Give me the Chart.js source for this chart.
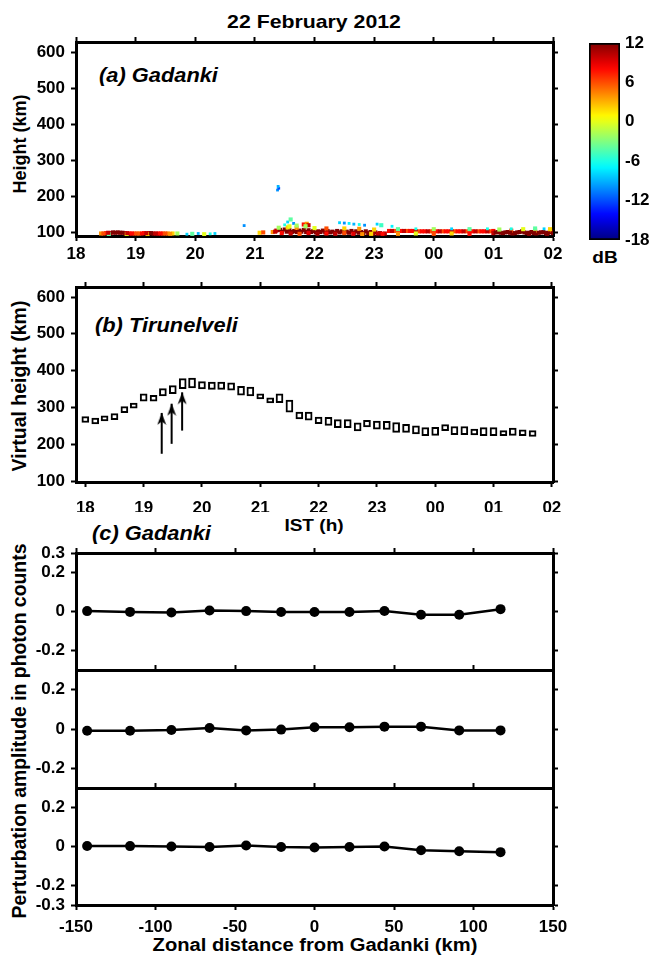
<!DOCTYPE html>
<html><head><meta charset="utf-8">
<script src="https://cdn.jsdelivr.net/npm/chart.js@4.4.0/dist/chart.umd.min.js"></script>
<style>
html,body{margin:0;padding:0;background:#fff;}
#wrap{position:relative;width:649px;height:959px;overflow:hidden;background:#fff;font-family:'Liberation Sans',Arial,sans-serif;color:#000;}
#wrap canvas{position:absolute;}
.t{position:absolute;white-space:nowrap;font-weight:bold;line-height:1;}
.c{transform:translate(-50%,-50%) scaleX(1.12);}
.l{transform:translate(0,-50%) scaleX(1.12);transform-origin:0 50%;}
.r{transform:translate(-50%,-50%) rotate(-90deg);}
.i{font-style:italic;}
</style></head>
<body><div id="wrap">
<div class="t c" style="left:314px;top:21px;font-size:19px;">22 February 2012</div>
<div class="t i l" style="left:99px;top:76px;font-size:19.5px;">(a) Gadanki</div>
<div class="t r" style="left:20px;top:144px;font-size:18px;">Height (km)</div>
<div class="t c" style="left:605px;top:257px;font-size:17px;">dB</div>
<div class="t i l" style="left:95px;top:326px;font-size:19.5px;">(b) Tirunelveli</div>
<div class="t r" style="left:20px;top:386px;font-size:19.5px;">Virtual height (km)</div>
<div class="t c" style="left:314px;top:525px;font-size:17px;">IST (h)</div>
<div class="t i l" style="left:92px;top:534px;font-size:19.5px;">(c) Gadanki</div>
<div class="t r" style="left:20px;top:731px;font-size:19.4px;">Perturbation amplitude in photon counts</div>
<div class="t c" style="left:315px;top:945px;font-size:18px;">Zonal distance from Gadanki (km)</div>
</div>
<script>
// ---------------- DATA ----------------
const hourTicks = [18, 19, 20, 21, 22, 23, 24, 25, 26];
const hourTickLabels = ['18', '19', '20', '21', '22', '23', '00', '01', '02'];
const heightTicks = [100, 200, 300, 400, 500, 600];
const dbTicks = [-18, -12, -6, 0, 6, 12];
const zonalTicks = [-150, -100, -50, 0, 50, 100, 150];
const pertTicksTop = [-0.2, 0, 0.2, 0.3];
const pertTicksMid = [-0.2, 0, 0.2];
const pertTicksBottom = [-0.3, -0.2, 0, 0.2];

// (a) Gadanki radar echoes: time (h IST, >24 = next day), height (km), SNR (dB)
const echoTime = [
 18.42,18.50,18.58,18.66,18.74,18.82,18.90,18.98,19.06,19.14,19.22,19.30,19.38,19.46,19.54,19.62,19.70,18.55,18.85,19.20,
 18.46,18.54,18.62,18.70,18.78,18.86,18.94,19.02,19.10,19.18,19.26,19.34,19.42,19.50,19.58,
 19.86,19.95,20.05,20.15,20.25,20.33,20.82,21.08,21.14,
 21.30,21.36,21.42,21.50,21.58,21.66,21.74,21.82,21.90,21.98,22.06,22.14,22.22,22.30,22.38,22.46,22.54,22.62,22.70,22.78,22.86,22.94,23.02,23.10,23.18,
 21.34,21.46,21.54,21.62,21.70,21.78,21.86,21.94,22.02,22.10,22.18,22.26,22.34,22.42,22.50,22.58,22.66,22.74,22.82,22.90,22.98,23.06,23.14,
 21.45,21.60,21.75,21.90,22.05,22.20,22.35,22.50,22.65,22.80,22.95,
 21.40,21.55,21.70,22.00,22.20,22.50,22.75,23.00,
 21.50,21.55,21.60,21.65,21.70,21.58,
 21.82,21.87,21.90,21.85,
 22.42,22.50,22.58,22.66,22.75,22.84,23.05,23.12,23.30,
 23.25,23.35,23.45,23.55,23.65,23.75,23.85,23.95,24.05,24.15,24.25,24.35,24.45,24.55,24.65,24.75,24.85,24.95,
 23.30,23.40,23.50,23.60,23.70,23.80,23.90,24.00,24.10,24.20,24.30,24.40,24.50,24.60,24.70,24.80,24.90,25.00,
 23.40,23.70,24.00,24.30,24.60,24.90,
 23.40,23.70,24.00,24.30,24.60,
 25.00,25.08,25.16,25.24,25.32,25.40,25.48,25.56,25.64,25.72,25.80,25.88,25.96,25.60,25.90,25.30,25.70,25.95,
 25.04,25.12,25.20,25.28,25.36,25.44,25.52,25.60,25.68,25.76,25.84,25.92,26.00,
 25.10,25.30,25.50,25.70,25.85,25.95,
 21.38,21.40,21.39
];
const echoHeight = [
 96,97,97,98,98,97,96,96,96,97,97,96,96,96,96,96,96,94,94,94,
 96,98,99,99,98,97,96,96,96,97,97,96,96,96,95,
 94,95,96,94,95,96,118,98,99,
 100,104,106,107,105,103,104,106,105,103,102,104,103,101,103,102,101,103,102,100,102,100,99,97,96,
 101,101,101,100,100,101,100,100,99,100,99,99,98,99,99,98,98,98,97,97,96,96,95,
 97,96,95,97,95,96,95,97,95,94,95,
 112,113,112,111,110,110,109,107,
 120,128,135,124,118,116,
 121,123,119,116,
 126,125,124,122,121,119,122,119,116,
 103,103,103,103,103,102,102,102,102,102,102,102,102,102,102,102,102,102,
 103,103,103,103,102,102,102,102,102,102,102,102,102,102,102,102,102,103,
 108,109,108,109,108,109,
 95,96,95,96,95,
 97,100,97,100,96,99,102,97,100,96,99,97,100,94,94,104,104,104,
 99,98,99,98,97,100,99,98,97,98,100,98,97,
 107,109,108,110,109,108,
 217,222,227
];
const echoDb = [
 4,8,10,12,12,10,8,6,4,8,10,10,8,6,4,2,-2,-4,0,2,
 6,10,12,12,12,10,8,6,8,10,12,10,8,6,4,
 -8,-4,-9,0,-6,-8,-10,2,6,
 4,10,12,12,12,12,12,12,12,12,12,12,12,12,12,12,12,12,12,12,12,12,12,11,10,
 10,12,12,12,12,12,12,12,12,12,12,12,12,12,12,12,12,12,12,12,11,10,8,
 8,10,6,9,11,8,10,6,9,4,2,
 -2,2,4,0,6,2,4,2,
 -6,-8,-4,-10,-2,0,
 8,4,10,-2,
 -8,-10,-7,-9,-6,-10,-8,-5,-7,
 8,6,8,6,8,6,8,6,8,6,8,6,8,6,8,6,8,6,
 10,8,10,8,10,8,10,8,10,8,10,8,10,8,10,8,10,8,
 -4,-6,-2,-8,-4,-6,
 4,0,6,2,8,
 10,12,12,12,12,12,12,12,12,12,12,12,12,12,12,6,4,6,
 12,12,12,12,12,12,12,12,12,12,12,12,12,
 -2,-6,0,-4,-8,2,
 -10,-12,-9
];

// (b) Tirunelveli ionosonde virtual height: time (h IST) and trace extent (km)
const vhTime = [18.00,18.17,18.33,18.50,18.67,18.83,19.00,19.17,19.33,19.50,19.67,19.83,20.00,20.17,20.33,20.50,20.67,20.83,21.00,21.17,21.33,21.50,21.67,21.83,22.00,22.17,22.33,22.50,22.67,22.83,23.00,23.17,23.33,23.50,23.67,23.83,24.00,24.17,24.33,24.50,24.67,24.83,25.00,25.17,25.33,25.50,25.67];
const vhLow  = [259,255,263,267,286,298,317,317,331,337,351,353,350,349,349,347,333,331,323,312,313,287,269,265,256,251,245,245,236,247,241,240,232,232,228,223,224,237,226,226,225,223,223,223,224,223,221];
const vhHigh = [275,271,277,283,302,312,337,333,351,359,378,380,370,369,369,367,357,355,337,326,337,320,287,287,274,273,267,267,258,265,263,262,259,254,250,245,246,253,248,248,241,245,245,237,244,239,237];
// arrows marking the onset times
const arrowTime = [19.31, 19.48, 19.66];
const arrowBase = [174, 201, 237];
const arrowTip  = [285, 310, 341];

// (c) Gadanki airglow perturbation amplitude vs zonal distance (km)
const zonalDist = [-143, -116, -90, -66, -43, -21, 0, 22, 44, 67, 91, 117];
const pert1 = [0.002, -0.002, -0.005, 0.005, 0.002, -0.003, -0.003, -0.003, 0.003, -0.017, -0.017, 0.012];
const pert2 = [-0.009, -0.009, -0.005, 0.005, -0.007, -0.003, 0.009, 0.009, 0.012, 0.012, -0.007, -0.007];
const pert3 = [0.003, 0.002, 0, -0.003, 0.005, -0.003, -0.005, -0.003, 0, -0.019, -0.024, -0.029];

// ---------------- RENDER ----------------
const FONT = "'Liberation Sans', Arial, sans-serif";
Chart.defaults.font.family = FONT;
Chart.defaults.font.weight = 'bold';
Chart.defaults.font.size = 17;
Chart.defaults.color = '#000';
Chart.defaults.animation = false;

const wrap = document.getElementById('wrap');
function makeCanvas(left, top, w, h) {
  const c = document.createElement('canvas');
  c.width = w; c.height = h;
  c.style.left = left + 'px'; c.style.top = top + 'px';
  c.style.width = w + 'px'; c.style.height = h + 'px';
  wrap.appendChild(c);
  return c;
}
function jet(v) {
  const u = (v + 18) / 30;
  const c = x => Math.round(255 * Math.max(0, Math.min(1, x)));
  return 'rgb(' + c(1.5 - Math.abs(4 * u - 3)) + ',' + c(1.5 - Math.abs(4 * u - 2)) + ',' + c(1.5 - Math.abs(4 * u - 1)) + ')';
}
function fixSize(s, size, horiz) {
  if (horiz) s.height = size; else s.width = size;
  s.paddingTop = 0; s.paddingBottom = 0; s.paddingLeft = 0; s.paddingRight = 0;
}
function sc(o) {
  const horiz = (o.pos === 'top' || o.pos === 'bottom');
  return {
    type: 'linear', position: o.pos, min: o.min, max: o.max, offset: false,
    afterFit: s => fixSize(s, o.size, horiz),
    afterBuildTicks: s => { s.ticks = o.ticks.map(v => ({ value: v })); },
    ticks: { display: !!o.labels, autoSkip: false, maxRotation: 0, minRotation: 0, padding: o.pad || 0,
             font: { size: 17, weight: 'bold' }, color: '#000',
             callback: (v, i) => (o.labels ? o.labels[i] : '') },
    grid: { display: true, drawOnChartArea: false, drawTicks: o.tl !== 0, tickLength: o.tl === undefined ? 5 : o.tl,
            tickWidth: 2, tickColor: '#000', offset: false },
    border: { display: true, color: '#000', width: 3 }
  };
}
const baseOpts = { responsive: false, animation: false, layout: { padding: 0, autoPadding: false },
  plugins: { legend: { display: false }, tooltip: { enabled: false }, title: { display: false } } };
const pertLabel = v => (v === 0 ? '0' : String(v));

// Panel (a)
new Chart(makeCanvas(0, 30, 580, 236), {
  type: 'scatter',
  data: { datasets: [{
    data: echoTime.map((t, i) => ({ x: t, y: echoHeight[i] })),
    pointStyle: 'rect', pointBorderWidth: 0,
    pointRadius: ctx => (echoDb[ctx.dataIndex] < -5 ? 2 : 2.9),
    pointBackgroundColor: ctx => jet(echoDb[ctx.dataIndex]),
    pointBorderColor: ctx => jet(echoDb[ctx.dataIndex])
  }] },
  options: Object.assign({}, baseOpts, { scales: {
    x: sc({ pos: 'bottom', min: 18, max: 26, ticks: hourTicks, labels: hourTickLabels, size: 30, pad: 3 }),
    xTop: sc({ pos: 'top', min: 18, max: 26, ticks: hourTicks, size: 12 }),
    y: sc({ pos: 'left', min: 89, max: 629, ticks: heightTicks, labels: heightTicks.map(String), size: 76, pad: 6 }),
    yRight: sc({ pos: 'right', min: 89, max: 629, ticks: heightTicks, size: 27 })
  } })
});

// Colour bar
new Chart(makeCanvas(580, 30, 69, 224), {
  type: 'bar',
  data: { labels: ['dB'], datasets: [{
    data: [[dbTicks[0], dbTicks[dbTicks.length - 1]]],
    backgroundColor: ctx => {
      const a = ctx.chart.chartArea; if (!a) return '#fff';
      const g = ctx.chart.ctx.createLinearGradient(0, a.bottom, 0, a.top);
      for (let k = 0; k <= 30; k++) g.addColorStop(k / 30, jet(-18 + k));
      return g;
    },
    borderColor: '#000', borderWidth: 2, borderSkipped: false, barPercentage: 1, categoryPercentage: 1
  }] },
  options: Object.assign({}, baseOpts, {
    layout: { padding: { left: 9, top: 13, bottom: 14, right: 0 }, autoPadding: false },
    scales: {
      x: { display: false },
      y: { position: 'right', min: -18, max: 12,
           afterFit: s => fixSize(s, 29, false),
           afterBuildTicks: s => { s.ticks = dbTicks.map(v => ({ value: v })); },
           ticks: { padding: 5, font: { size: 17, weight: 'bold' }, color: '#000', callback: v => String(v) },
           grid: { display: false, drawTicks: false }, border: { display: false } }
    }
  })
});

// Panel (b)
const arrowHead = (() => {
  const c = document.createElement('canvas'); c.width = 10; c.height = 26;
  const g = c.getContext('2d'); g.fillStyle = '#000';
  g.beginPath(); g.moveTo(5, 13); g.lineTo(9.5, 25); g.lineTo(5, 21.5); g.lineTo(0.5, 25); g.closePath(); g.fill();
  return c;
})();
const arrowSets = arrowTime.map((t, i) => ({
  type: 'line', data: [{ x: t, y: arrowBase[i] }, { x: t, y: arrowTip[i] }],
  borderColor: '#000', borderWidth: 2, fill: false, pointStyle: arrowHead,
  pointRadius: ctx => (ctx.dataIndex === 1 ? 5 : 0)
}));
new Chart(makeCanvas(0, 275, 580, 237), {
  type: 'bar',
  data: { datasets: [{
    type: 'bar',
    data: vhTime.map((t, i) => ({ x: t, y: [vhLow[i], vhHigh[i]] })),
    backgroundColor: '#fff', borderColor: '#000', borderWidth: 2, borderSkipped: false, barThickness: 7
  }].concat(arrowSets) },
  options: Object.assign({}, baseOpts, { scales: {
    x: sc({ pos: 'bottom', min: 17.84, max: 26.02, ticks: hourTicks, labels: hourTickLabels, size: 30, pad: 11 }),
    xTop: sc({ pos: 'top', min: 17.84, max: 26.02, ticks: hourTicks, size: 12 }),
    y: sc({ pos: 'left', min: 97.3, max: 627.2, ticks: heightTicks, labels: heightTicks.map(String), size: 76, pad: 6 }),
    yRight: sc({ pos: 'right', min: 97.3, max: 627.2, ticks: heightTicks, size: 27 })
  } })
});

// Panel (c): three stacked sub-panels
function pertPanel(top, h, values, yTicks, bottomSize, showX) {
  new Chart(makeCanvas(0, top, 580, h), {
    type: 'line',
    data: { datasets: [{
      data: zonalDist.map((d, i) => ({ x: d, y: values[i] })),
      borderColor: '#000', borderWidth: 2.5, tension: 0, fill: false,
      pointRadius: 5, pointBackgroundColor: '#000', pointBorderColor: '#000', pointBorderWidth: 0
    }] },
    options: Object.assign({}, baseOpts, { scales: {
      x: showX ? sc({ pos: 'bottom', min: -150, max: 150, ticks: zonalTicks, labels: zonalTicks.map(String), size: bottomSize, pad: 7 })
               : sc({ pos: 'bottom', min: -150, max: 150, ticks: zonalTicks, size: bottomSize, tl: 0 }),
      xTop: sc({ pos: 'top', min: -150, max: 150, ticks: zonalTicks, size: 13 }),
      y: sc({ pos: 'left', min: -0.3, max: 0.3, ticks: yTicks, labels: yTicks.map(pertLabel), size: 76, pad: 6 }),
      yRight: sc({ pos: 'right', min: -0.3, max: 0.3, ticks: yTicks, size: 27 })
    } })
  });
}
pertPanel(540, 132, pert1, pertTicksTop, 2, false);
pertPanel(657, 133, pert2, pertTicksMid, 2, false);
pertPanel(775, 165, pert3, pertTicksBottom, 35, true);
</script>
</body></html>
